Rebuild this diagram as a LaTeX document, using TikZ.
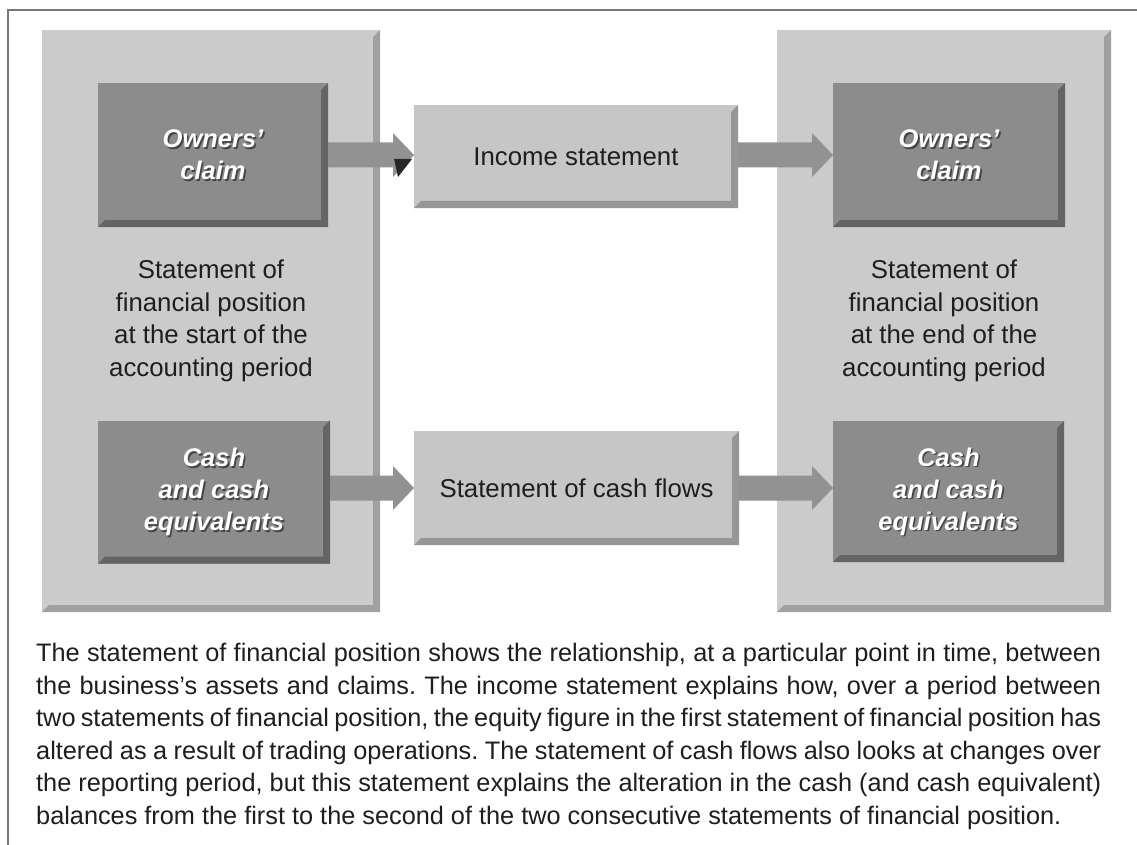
\documentclass[tikz,border=0pt]{standalone}
\usepackage{fontspec}
\setmainfont{Liberation Sans}
\usetikzlibrary{calc}
\definecolor{panelc}{RGB}{203,203,203}
\definecolor{paneld}{RGB}{160,160,160}
\definecolor{darkc}{RGB}{140,140,140}
\definecolor{darkd}{RGB}{100,100,100}
\definecolor{midc}{RGB}{198,198,198}
\definecolor{midd}{RGB}{150,150,150}
\definecolor{arrowc}{RGB}{146,146,146}
\definecolor{framec}{RGB}{120,120,120}
\definecolor{txtc}{RGB}{30,30,30}
\definecolor{shadowc}{RGB}{70,70,70}
\newcommand\bodyfont{\fontsize{25.8}{32.5}\selectfont}
\newcommand\capfont{\fontsize{25.3}{32.6}\selectfont}
\newcommand\boldfont{\fontsize{25.5}{32}\selectfont\bfseries\itshape}
\newcommand\mybevel[3]{%
  \fill[#2] (#1.north east) -- (#1.south east) -- ($(#1.south east)+(-#3,#3)$) -- ($(#1.north east)+(-#3,-#3)$) -- cycle;
  \fill[#2] (#1.south west) -- (#1.south east) -- ($(#1.south east)+(-#3,#3)$) -- ($(#1.south west)+(#3,#3)$) -- cycle;}
\newcommand\blockarrow[2]{%
  \fill[arrowc] ($(#1)+(0pt,12.5pt)$) -- ($(#2)+(-21pt,12.5pt)$) -- ($(#2)+(-21pt,22pt)$) -- (#2)
    -- ($(#2)+(-21pt,-22pt)$) -- ($(#2)+(-21pt,-12.5pt)$) -- ($(#1)+(0pt,-12.5pt)$) -- cycle;}
\tikzset{
  boxbase/.style={inner sep=0pt, outer sep=0pt, align=center},
  panel/.style={boxbase, fill=panelc, font=\bodyfont, text=txtc},
  darkbox/.style={boxbase, fill=darkc},
  midbox/.style={boxbase, fill=midc, font=\bodyfont, text=txtc},
  whitetxt/.style={boxbase, font=\boldfont, text=white},
  shadowtxt/.style={boxbase, font=\boldfont, text=shadowc},
  frameline/.style={draw=framec, line width=1.5pt}
}
\begin{document}
\begin{tikzpicture}[x=1pt,y=-1pt]
\useasboundingbox (0,0) rectangle (1137,845);
\fill[white] (0,0) rectangle (1137,845);
\draw[frameline] (8,845) -- (8,10) -- (1137,10);

% panels
\node[panel, minimum width=338pt, minimum height=582pt] (P1) at (211,321)
  {Statement of\\financial position\\at the start of the\\accounting period};
\mybevel{P1}{paneld}{7pt}
\node[panel, minimum width=334pt, minimum height=582pt] (P2) at (944,321)
  {Statement of\\financial position\\at the end of the\\accounting period};
\mybevel{P2}{paneld}{7pt}

% dark inner boxes
\node[darkbox, minimum width=230pt, minimum height=144pt] (O1) at (213,155) {};
\mybevel{O1}{darkd}{7pt}
\node[darkbox, minimum width=232pt, minimum height=143pt] (C1) at (214,492) {};
\mybevel{C1}{darkd}{7pt}
\node[darkbox, minimum width=232pt, minimum height=144pt] (O2) at (949,155) {};
\mybevel{O2}{darkd}{7pt}
\node[darkbox, minimum width=231pt, minimum height=141pt] (C2) at (948.5,491.5) {};
\mybevel{C2}{darkd}{7pt}

% middle boxes
\node[midbox, minimum width=324pt, minimum height=103pt] (I) at (576,156.5) {Income statement};
\mybevel{I}{midd}{7pt}
\node[midbox, minimum width=325pt, minimum height=114pt] (CF) at (576.5,488) {Statement of cash flows};
\mybevel{CF}{midd}{7pt}

% labels in dark boxes
\foreach \b/\t in {O1/{Owners’\\claim}, O2/{Owners’\\claim}, C1/{Cash\\and cash\\equivalents}, C2/{Cash\\and cash\\equivalents}}{
  \node[shadowtxt] (\b s) at ($(\b.center)+(1.6pt,-1.6pt)$) {\t};
  \node[whitetxt] (\b t) at (\b.center) {\t};
}

% arrows
\blockarrow{O1.east}{I.west |- O1.east}
\blockarrow{I.east |- O2.west}{O2.west}
\blockarrow{C1.east |- CF.west}{CF.west}
\blockarrow{CF.east}{C2.west |- CF.east}
\fill[black!85] (394,159) -- (412,159) -- (398,177) -- cycle;

% caption
\node[anchor=north west, inner sep=0pt, text width=1065pt, align=justify, font=\capfont, text=txtc] (cap) at (36,638.5)
{\frenchspacing\hyphenpenalty=10000\fontdimen4\font=3pt\strut The statement of financial position shows the relationship, at a particular point in time, between\linebreak
the business’s assets and claims. The income statement explains how, over a period between\linebreak
two statements of financial position, the equity figure in the first statement of financial position has\linebreak
altered as a result of trading operations. The statement of cash flows also looks at changes over\linebreak
the reporting period, but this statement explains the alteration in the cash (and cash equivalent)\linebreak
balances from the first to the second of the two consecutive statements of financial position.};
\end{tikzpicture}
\end{document}
